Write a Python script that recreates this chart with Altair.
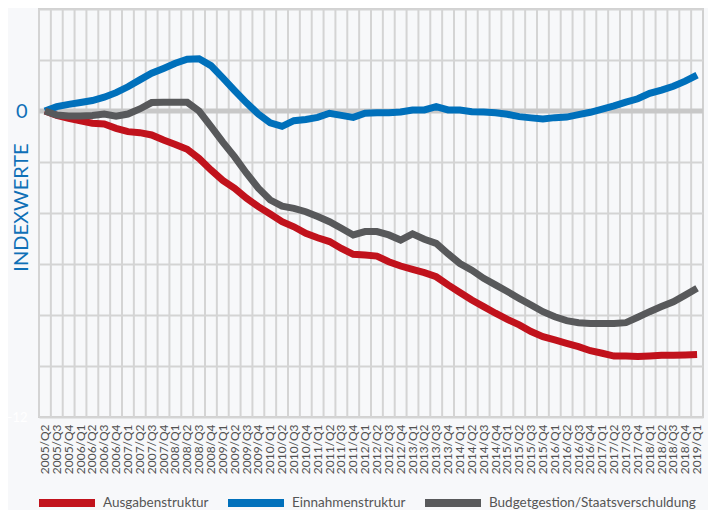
import altair as alt
import pandas as pd

quarters = [
    "2005/Q2", "2005/Q3", "2005/Q4",
    "2006/Q1", "2006/Q2", "2006/Q3", "2006/Q4",
    "2007/Q1", "2007/Q2", "2007/Q3", "2007/Q4",
    "2008/Q1", "2008/Q2", "2008/Q3", "2008/Q4",
    "2009/Q1", "2009/Q2", "2009/Q3", "2009/Q4",
    "2010/Q1", "2010/Q2", "2010/Q3", "2010/Q4",
    "2011/Q1", "2011/Q2", "2011/Q3", "2011/Q4",
    "2012/Q1", "2012/Q2", "2012/Q3", "2012/Q4",
    "2013/Q1", "2013/Q2", "2013/Q3", "2013/Q4",
    "2014/Q1", "2014/Q2", "2014/Q3", "2014/Q4",
    "2015/Q1", "2015/Q2", "2015/Q3", "2015/Q4",
    "2016/Q1", "2016/Q2", "2016/Q3", "2016/Q4",
    "2017/Q1", "2017/Q2", "2017/Q3", "2017/Q4",
    "2018/Q1", "2018/Q2", "2018/Q3", "2018/Q4",
    "2019/Q1",
]

series_names = ["Ausgabenstruktur", "Einnahmenstruktur", "Budgetgestion/Staatsverschuldung"]
series_colors = ["#c1121c", "#0070bb", "#58595b"]

ausgaben = [
    0, -0.17, -0.29, -0.39, -0.48, -0.51, -0.68, -0.81, -0.85, -0.94,
    -1.14, -1.31, -1.5, -1.86, -2.31, -2.72, -3.03, -3.42, -3.75, -4.04,
    -4.34, -4.54, -4.8, -4.97, -5.12, -5.39, -5.62, -5.65, -5.69, -5.91,
    -6.08, -6.21, -6.34, -6.5, -6.82, -7.12, -7.41, -7.67, -7.93, -8.17,
    -8.39, -8.65, -8.85, -8.98, -9.11, -9.24, -9.4, -9.5, -9.61, -9.61,
    -9.63, -9.61, -9.58, -9.58, -9.57, -9.55,
]

einnahmen = [
    0, 0.17, 0.26, 0.33, 0.41, 0.54, 0.72, 0.95, 1.22, 1.48,
    1.67, 1.87, 2.03, 2.05, 1.78, 1.3, 0.8, 0.32, -0.12, -0.46,
    -0.6, -0.38, -0.33, -0.25, -0.09, -0.17, -0.25, -0.09, -0.07, -0.07,
    -0.04, 0.04, 0.04, 0.17, 0.04, 0.04, -0.03, -0.04, -0.07, -0.13,
    -0.22, -0.27, -0.31, -0.26, -0.24, -0.14, -0.05, 0.07, 0.2, 0.35,
    0.48, 0.69, 0.82, 0.97, 1.17, 1.41,
]

budget = [
    0, -0.16, -0.2, -0.2, -0.18, -0.12, -0.2, -0.12, 0.08, 0.33,
    0.34, 0.34, 0.34, 0.0, -0.6, -1.22, -1.8, -2.44, -3.03, -3.49,
    -3.73, -3.82, -3.95, -4.14, -4.34, -4.6, -4.86, -4.73, -4.73, -4.86,
    -5.06, -4.82, -5.03, -5.19, -5.6, -5.98, -6.24, -6.56, -6.82, -7.08,
    -7.35, -7.61, -7.87, -8.07, -8.22, -8.3, -8.33, -8.33, -8.33, -8.3,
    -8.09, -7.87, -7.67, -7.48, -7.22, -6.95,
]

y_ticks = [-12, -10, -8, -6, -4, -2, 0, 2, 4]

rows = []
for name, vals in zip(series_names, [ausgaben, einnahmen, budget]):
    for q, v in zip(quarters, vals):
        rows.append({"quarter": q, "value": v, "series": name})
df = pd.DataFrame(rows)

grid_df = pd.DataFrame({"quarter": quarters})
zero_df = pd.DataFrame({"value": [0]})

FONT = "Lato"
BLUE = "#0f70b7"

x_scale = alt.Scale(domain=quarters, paddingInner=0, paddingOuter=0)
y_scale = alt.Scale(domain=[-12, 4], nice=False, zero=False)

x_axis = alt.Axis(
    title=None,
    labelAngle=-90,
    labelFont=FONT,
    labelFontSize=12,
    labelColor="#505050",
    labelPadding=7,
    ticks=False,
    domain=False,
    grid=False,
)

y_axis = alt.Axis(
    values=y_ticks,
    title="INDEXWERTE",
    titleFont=FONT,
    titleFontSize=20,
    titleFontWeight="normal",
    titleColor=BLUE,
    titleAngle=270,
    titleAlign="center",
    titleBaseline="middle",
    titleX=-18,
    titleY=198,
    labelExpr="datum.value == 0 || datum.value == -12 ? datum.label : ''",
    labelColor={"condition": {"test": "datum.value === 0", "value": BLUE}, "value": "#ffffff"},
    labelFontSize={"condition": {"test": "datum.value === 0", "value": 20}, "value": 13},
    labelFont=FONT,
    labelPadding=12,
    ticks=False,
    domain=False,
    grid=True,
    gridColor="#d4d4d4",
    gridWidth=2,
)

vgrid = alt.Chart(grid_df).mark_rule(color="#d4d4d4", strokeWidth=2).encode(
    x=alt.X("quarter:N", scale=x_scale, sort=quarters, bandPosition=0, axis=x_axis),
)

zero_line = alt.Chart(zero_df).mark_rule(color="#c8c8c8", strokeWidth=5).encode(
    y=alt.Y("value:Q", scale=y_scale, axis=y_axis),
)

lines = alt.Chart(df).mark_line(strokeWidth=7).encode(
    x=alt.X("quarter:N", scale=x_scale, sort=quarters, axis=x_axis),
    y=alt.Y("value:Q", scale=y_scale, axis=y_axis),
    color=alt.Color(
        "series:N",
        scale=alt.Scale(domain=series_names, range=series_colors),
        legend=alt.Legend(
            title=None,
            orient="none",
            legendX=-4,
            legendY=462,
            direction="horizontal",
            symbolType="stroke",
            symbolSize=3136,
            symbolStrokeWidth=8,
            labelFont=FONT,
            labelFontSize=13.5,
            labelColor="#555555",
            labelOffset=4,
            labelLimit=400,
            columnPadding=3,
        ),
    ),
)

chart = (
    alt.layer(vgrid, zero_line, lines)
    .properties(
        width=664,
        height=408,
        autosize="none",
        padding={"left": 31, "top": 1, "right": 5, "bottom": 120},
        background="#f7f8fa",
    )
    .configure_view(stroke="#d0d0d0", strokeWidth=2)
)

chart.save("out.html", embed_options={"renderer": "svg", "actions": False})
